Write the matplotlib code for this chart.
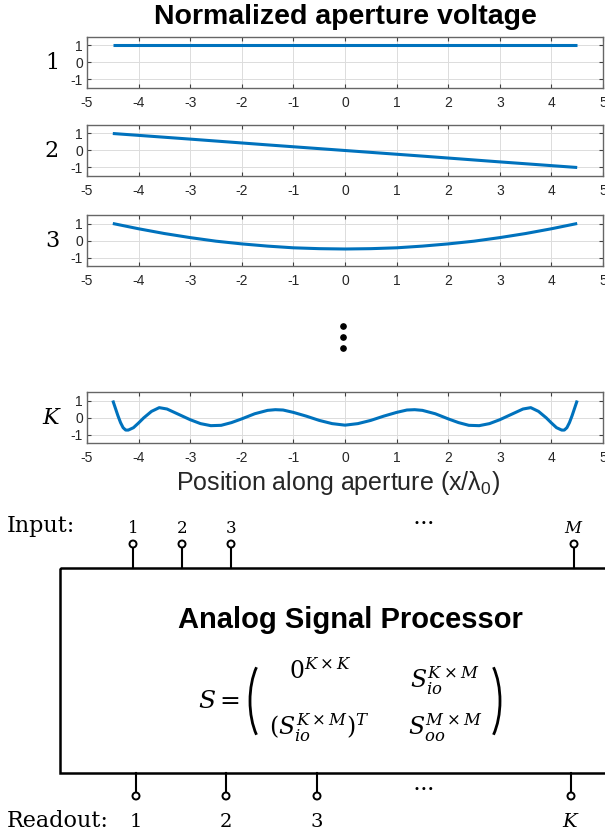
import matplotlib
matplotlib.use('Agg')
from matplotlib import pyplot as plt
from matplotlib.patches import Rectangle, Circle, Arc

plt.rcParams['font.family'] = 'Liberation Sans'
plt.rcParams['mathtext.fontset'] = 'dejavuserif'
plt.rcParams['axes.unicode_minus'] = False

# aperture voltage traces
x_flat = [-4.5, 4.5]
v_flat = [1.0, 1.0]

x_lin = [-4.5, -3.0, -1.5, 0.0, 1.5, 3.0, 4.5]
v_lin = [1.0, 0.67, 0.33, 0.0, -0.33, -0.67, -1.0]

x_quad = [-4.5, -4.0, -3.5, -3.0, -2.5, -2.0, -1.5, -1.0, -0.5, 0.0,
          0.5, 1.0, 1.5, 2.0, 2.5, 3.0, 3.5, 4.0, 4.5]
v_quad = [1.0, 0.69, 0.41, 0.17, -0.04, -0.2, -0.33, -0.43, -0.48, -0.5,
          -0.48, -0.43, -0.33, -0.2, -0.04, 0.17, 0.41, 0.69, 1.0]

x_K = [-4.5, -4.45, -4.4, -4.35, -4.3, -4.25, -4.2, -4.1, -4.0, -3.9, -3.75,
       -3.6, -3.45, -3.25, -3.0, -2.8, -2.6, -2.4, -2.2, -2.0, -1.75, -1.5,
       -1.35, -1.2, -1.0, -0.75, -0.5, -0.25, 0.0,
       0.25, 0.5, 0.75, 1.0, 1.2, 1.35, 1.5, 1.75, 2.0, 2.2, 2.4, 2.6, 2.8,
       3.0, 3.25, 3.45, 3.6, 3.75, 3.9, 4.0, 4.1, 4.2, 4.25, 4.3, 4.35, 4.4,
       4.45, 4.5]
v_K = [1.0, 0.55, 0.1, -0.3, -0.6, -0.74, -0.74, -0.6, -0.32, -0.02, 0.36,
       0.58, 0.5, 0.22, -0.13, -0.36, -0.48, -0.46, -0.3, -0.08, 0.22, 0.42,
       0.46, 0.44, 0.3, 0.08, -0.17, -0.36, -0.45,
       -0.36, -0.17, 0.08, 0.3, 0.44, 0.46, 0.42, 0.22, -0.08, -0.3, -0.46,
       -0.48, -0.36, -0.13, 0.22, 0.5, 0.58, 0.36, -0.02, -0.32, -0.6, -0.74,
       -0.74, -0.6, -0.3, 0.1, 0.55, 1.0]

traces = [(x_flat, v_flat), (x_lin, v_lin), (x_quad, v_quad), (x_K, v_K)]
row_labels = ['1', '2', '3', '$K$']
xticks = [-5, -4, -3, -2, -1, 0, 1, 2, 3, 4, 5]
yticks = [-1, 0, 1]

input_pins = ['1', '2', '3', '$M$']
readout_pins = ['1', '2', '3', '$K$']

# scattering matrix entries
s_entries = [r'$0^{K\times K}$', r'$S_{io}^{K\times M}$',
             r'$(S_{io}^{K\times M})^T$', r'$S_{oo}^{M\times M}$']

W, H = 605, 838
fig = plt.figure(figsize=(W / 100, H / 100), dpi=100)


def px_axes(left, top, right, bottom):
    return fig.add_axes([left / W, 1 - bottom / H, (right - left) / W, (bottom - top) / H])


blue = '#0072BD'
tops = [37, 125, 215, 392]
axs = []
for (xs, vs), top, lab in zip(traces, tops, row_labels):
    ax = px_axes(87, top, 603, top + 51)
    ax.plot(xs, vs, color=blue, lw=2.2, solid_capstyle='butt')
    ax.set_xlim(-5, 5)
    ax.set_ylim(-1.5, 1.5)
    ax.set_xticks(xticks)
    ax.set_yticks(yticks)
    ax.grid(True, color='#dcdcdc', lw=0.7)
    ax.set_axisbelow(True)
    ax.tick_params(direction='in', top=True, right=True, length=3, width=0.8,
                   color='#404040', labelsize=10, labelcolor='#262626')
    ax.tick_params(axis='x', pad=6)
    ax.tick_params(axis='y', pad=3)
    for s in ax.spines.values():
        s.set_color('#666666')
        s.set_linewidth(1.0)
    fig.text(52 / W, 1 - (top + 26) / H, lab, family='DejaVu Serif', fontsize=16,
             ha='center', va='center')
    axs.append(ax)

axs[0].set_title('Normalized aperture voltage', fontsize=20.5, fontweight='bold', pad=9)
axs[3].set_xlabel('Position along aperture (x/$\\mathregular{\\lambda_0}$)', fontsize=18,
                  labelpad=3, color='#262626')
axs[3].xaxis.set_label_coords(0.487, -0.5)

# overlay in pixel coordinates for the schematic
ov = fig.add_axes([0, 0, 1, 1])
ov.set_xlim(0, W)
ov.set_ylim(H, 0)
ov.axis('off')
ov.patch.set_alpha(0)

# vertical ellipsis between the plots
ov.plot([343, 343, 343], [326, 337, 348], 'o', color='k', ms=3.8)

box_top, box_bot = 568, 773
ov.add_patch(Rectangle((60, box_top), 600, box_bot - box_top, fill=False, lw=1.8,
                       ec='k', clip_on=False))

for xp, lab in zip([133, 182, 231, 574], input_pins):
    ov.plot([xp, xp], [box_top, 547.5], color='k', lw=1.5)
    ov.add_patch(Circle((xp, 544), 3.5, fc='white', ec='k', lw=1.4, zorder=3))
    ov.text(xp, 533, lab, family='DejaVu Serif', fontsize=12, ha='center', va='baseline')
ov.text(423, 528, '$\\cdots$', fontsize=17, ha='center', va='baseline')
ov.text(7, 532, 'Input:', family='DejaVu Serif', fontsize=16, ha='left', va='baseline')

for xp, lab in zip([136, 226, 317, 571], readout_pins):
    ov.plot([xp, xp], [box_bot, 792.5], color='k', lw=1.5)
    ov.add_patch(Circle((xp, 796), 3.5, fc='white', ec='k', lw=1.4, zorder=3))
    ov.text(xp, 827, lab, family='DejaVu Serif', fontsize=14, ha='center', va='baseline')
ov.text(423, 794, '$\\cdots$', fontsize=17, ha='center', va='baseline')
ov.text(7, 827, 'Readout:', family='DejaVu Serif', fontsize=16, ha='left', va='baseline')

ov.text(350, 628, 'Analog Signal Processor', fontsize=21, fontweight='bold',
        ha='center', va='baseline')

# S = ( matrix )
ov.text(240, 708, r'$S =$', fontsize=18, ha='right', va='baseline')
ov.add_patch(Arc((276, 701), 52, 102, theta1=120, theta2=240, lw=2.0, color='k'))
ov.add_patch(Arc((474, 701), 52, 102, theta1=-60, theta2=60, lw=2.0, color='k'))
for (xc, yb), txt in zip([(320, 679), (445, 688), (319, 735), (445, 735)], s_entries):
    ov.text(xc, yb, txt, fontsize=17, ha='center', va='baseline')

fig.savefig('out.png', dpi=100)
